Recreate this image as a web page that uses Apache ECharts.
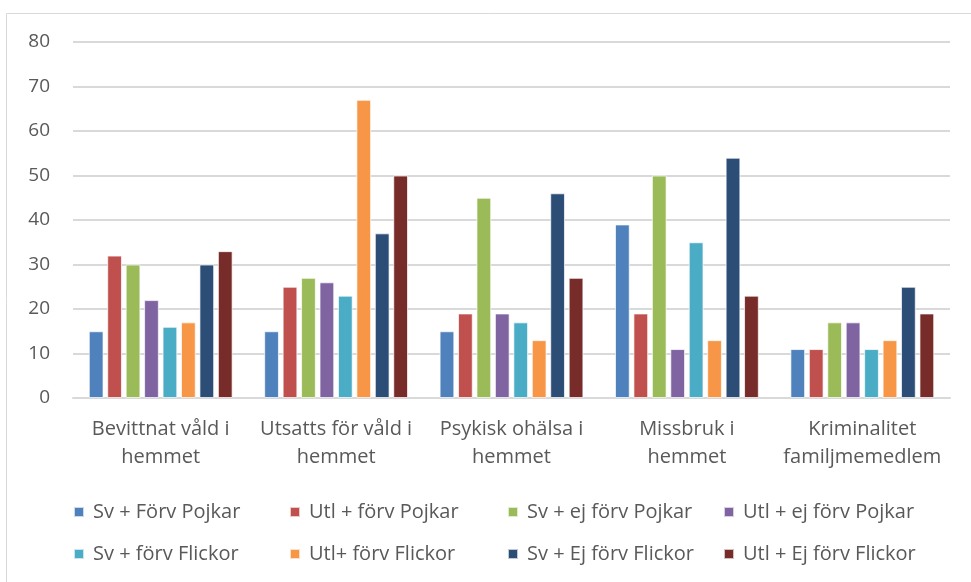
<!DOCTYPE html>
<html>
<head>
<meta charset="utf-8">
<script src="https://cdn.jsdelivr.net/npm/echarts@6/dist/echarts.min.js"></script>
<style>
  html, body { margin: 0; padding: 0; background: #fff; }
  #chart { width: 971px; height: 582px; }
</style>
</head>
<body>
<div id="chart"></div>
<script>
const categories = [
  'Bevittnat våld i\nhemmet',
  'Utsatts för våld i\nhemmet',
  'Psykisk ohälsa i\nhemmet',
  'Missbruk i\nhemmet',
  'Kriminalitet\nfamiljmemedlem'
]
const seriesNames = [
  'Sv + Förv Pojkar', 'Utl + förv Pojkar', 'Sv + ej förv Pojkar', 'Utl + ej förv Pojkar',
  'Sv + förv Flickor', 'Utl+ förv Flickor', 'Sv + Ej förv Flickor', 'Utl + Ej förv Flickor'
]
const svForvPojkar = [15, 15, 15, 39, 11]
const utlForvPojkar = [32, 25, 19, 19, 11]
const svEjForvPojkar = [30, 27, 45, 50, 17]
const utlEjForvPojkar = [22, 26, 19, 11, 17]
const svForvFlickor = [16, 23, 17, 35, 11]
const utlForvFlickor = [17, 67, 13, 13, 13]
const svEjForvFlickor = [30, 37, 46, 54, 25]
const utlEjForvFlickor = [33, 50, 27, 23, 19]
const yTicks = [0, 10, 20, 30, 40, 50, 60, 70, 80]

const seriesData = [
  svForvPojkar, utlForvPojkar, svEjForvPojkar, utlEjForvPojkar,
  svForvFlickor, utlForvFlickor, svEjForvFlickor, utlEjForvFlickor
]
const colors = ['#4F81BD', '#C0504D', '#9BBB59', '#8064A2', '#4BACC6', '#F79646', '#2C4D75', '#772C2A']
const font = '"Open Sans", sans-serif'
const textColor = '#595959'

// one legend per item so the columns line up like the original
const legendCols = [68, 284, 502, 718]
const legendRows = [497, 539]
const legends = seriesNames.map((name, i) => ({
  left: legendCols[i % 4],
  top: legendRows[Math.floor(i / 4)],
  itemWidth: 10,
  itemHeight: 10,
  icon: 'rect',
  data: [name],
  textStyle: { fontFamily: font, fontSize: 20, color: textColor, padding: [0, 0, 0, 4] }
}))

const chart = echarts.init(document.getElementById('chart'))
chart.setOption({
  animation: false,
  color: colors,
  graphic: [{
    type: 'rect',
    shape: { x: 6.5, y: 13.5, width: 980, height: 580 },
    style: { fill: 'none', stroke: '#d9d9d9', lineWidth: 1 }
  }],
  grid: { left: 73, right: 21, top: 42, bottom: 184 },
  legend: legends,
  xAxis: {
    type: 'category',
    data: categories,
    axisLine: { lineStyle: { color: '#d9d9d9', width: 2 } },
    axisTick: { show: false },
    axisLabel: { fontFamily: font, fontSize: 20, color: textColor, lineHeight: 28, margin: 17, interval: 0 }
  },
  yAxis: {
    type: 'value',
    min: yTicks[0],
    max: yTicks[yTicks.length - 1],
    interval: 10,
    axisLine: { show: false },
    axisTick: { show: false },
    splitLine: { lineStyle: { color: '#d9d9d9', width: 2 } },
    axisLabel: { fontFamily: font, fontSize: 19, color: textColor, margin: 23 }
  },
  series: seriesData.map((d, i) => ({
    name: seriesNames[i],
    type: 'bar',
    data: d,
    barGap: '25%',
    barCategoryGap: '18%',
    itemStyle: { borderColor: 'rgba(255,255,255,0.7)', borderWidth: 1 }
  }))
})
</script>
</body>
</html>
